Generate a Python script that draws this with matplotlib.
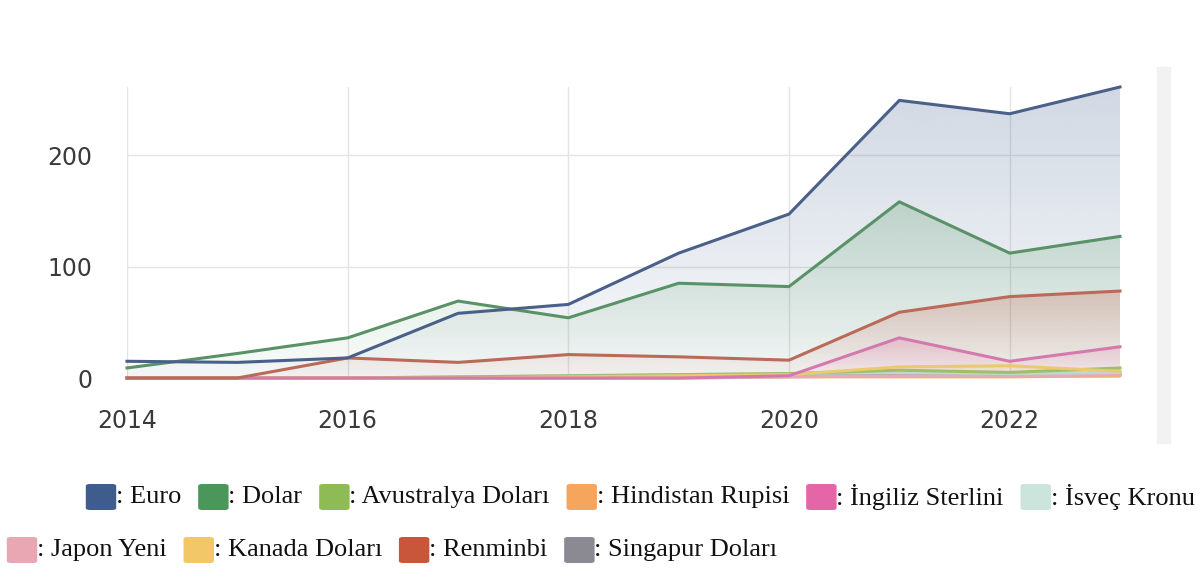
import numpy as np
import matplotlib
matplotlib.use("Agg")
import matplotlib.pyplot as plt
from matplotlib.colors import to_rgb
from matplotlib.patches import FancyBboxPatch, Rectangle

years = [2014, 2015, 2016, 2017, 2018, 2019, 2020, 2021, 2022, 2023]

euro = [15, 14, 18, 58, 66, 112, 147, 249, 237, 261]
dolar = [9, 22, 36, 69, 54, 85, 82, 158, 112, 127]
avustralya = [0, 0, 0, 1, 2, 3, 4, 7, 5, 9]
hindistan = [0, 0, 0, 0, 0, 0, 1, 1, 1, 2]
sterlin = [0, 0, 0, 0, 0, 0, 2, 36, 15, 28]
isvec = [0, 0, 0, 1, 2, 3, 4, 5, 4, 5]
japon = [0, 0, 0, 0, 0, 0, 1, 2, 2, 3]
kanada = [0, 0, 0, 0, 1, 2, 3, 10, 11, 6]
renminbi = [0, 0, 18, 14, 21, 19, 16, 59, 73, 78]
singapur = [0, 0, 0, 0, 0, 1, 2, 3, 3, 4]

names = [": Euro", ": Dolar", ": Avustralya Doları", ": Hindistan Rupisi",
         ": İngiliz Sterlini", ": İsveç Kronu", ": Japon Yeni",
         ": Kanada Doları", ": Renminbi", ": Singapur Doları"]
legend_colors = ["#3e5d8c", "#4b9659", "#8fbb55", "#f6a65c", "#e466a7",
                 "#cbe5dc", "#e8a7b3", "#f2c768", "#c9553a", "#8b8a92"]
line_colors = ["#4b6088", "#5a9268", "#9dbf6a", "#f0b070", "#d479ad",
               "#bcd9cf", "#e5aab8", "#ecc870", "#b96a58", "#9a9aa2"]
series = [euro, dolar, avustralya, hindistan, sterlin, isvec, japon,
          kanada, renminbi, singapur]

W, H = 1203, 573
fig = plt.figure(figsize=(W / 100, H / 100), dpi=100)
ax = fig.add_axes([127 / W, 1 - 378 / H, (1120 - 127) / W, (378 - 87) / H])
ax.set_xlim(2014, 2023)
ax.set_ylim(0, 261)

# gradient fills, biggest series at back
order = [0, 1, 8, 4, 7, 2, 5, 6, 3, 9]
x = np.array(years, dtype=float)
for k, i in enumerate(order):
    y = np.array(series[i], dtype=float)
    top = max(y.max(), 1)
    poly = ax.fill_between(x, 0, y, facecolor="none", edgecolor="none")
    r, g, b = to_rgb(legend_colors[i])
    grad = np.zeros((100, 2, 4))
    grad[..., 0], grad[..., 1], grad[..., 2] = r, g, b
    grad[..., 3] = np.linspace(0.24, 0.03, 100)[:, None]
    im = ax.imshow(grad, extent=[2014, 2023, 0, top], aspect="auto",
                   origin="upper", zorder=1 + k * 0.01, interpolation="bilinear")
    im.set_clip_path(poly.get_paths()[0], transform=ax.transData)

for k, i in enumerate(reversed(order)):
    ax.plot(years, series[i], color=line_colors[i], lw=2.2, zorder=3 + k * 0.01,
            solid_joinstyle="round", clip_on=False)

ax.set_xticks([2014, 2016, 2018, 2020, 2022])
ax.set_yticks([0, 100, 200])
ax.grid(True, color="#e4e4e4", lw=1)
ax.set_axisbelow(True)
for s in ax.spines.values():
    s.set_visible(False)
ax.tick_params(length=0, labelsize=17, labelcolor="#3a3a3a")
ax.tick_params(axis="x", pad=22)
ax.tick_params(axis="y", pad=25)
for lab in ax.get_xticklabels() + ax.get_yticklabels():
    lab.set_fontfamily("DejaVu Sans")

# grey strip on the right
fig.patches.append(Rectangle((1157 / W, 1 - 443 / H), 13 / W, 376 / H,
                             transform=fig.transFigure, color="#f2f2f2", zorder=0))

# legend below, two rows
renderer = fig.canvas.get_renderer()
rows = [(range(0, 6), 87, 497), (range(6, 10), 8, 550)]
sq = 28
for idx, x0, yc in rows:
    xp = x0
    for i in idx:
        fig.patches.append(FancyBboxPatch(
            ((xp + 3) / W, 1 - (yc + sq / 2 - 3) / H), (sq - 6) / W, (sq - 6) / H,
            boxstyle="round,pad=0.0035", transform=fig.transFigure,
            facecolor=legend_colors[i], edgecolor="none"))
        t = fig.text((xp + sq + 1) / W, 1 - yc / H, names[i], fontsize=19,
                     family="Liberation Serif", color="#111111", va="center",
                     ha="left")
        wpx = t.get_window_extent(renderer).width
        xp = xp + sq + 1 + wpx + 18

fig.savefig("out.png", dpi=100, facecolor="white")
